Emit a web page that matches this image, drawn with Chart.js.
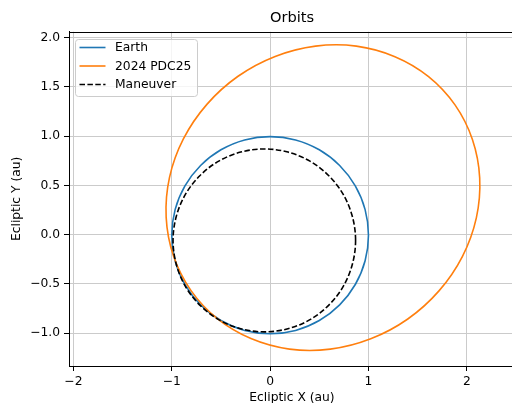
<!DOCTYPE html>
<html>
<head>
<meta charset="utf-8">
<script src="https://cdn.jsdelivr.net/npm/chart.js@4.4.0/dist/chart.umd.min.js"></script>
<style>
html,body{margin:0;padding:0;overflow:hidden;background:#fff;}
canvas{display:block;}
</style>
</head>
<body>
<canvas id="c" width="516" height="403"></canvas>
<script>
// ---- data (au) ----
const seriesLabels = ['Earth', '2024 PDC25', 'Maneuver'];

const earthX = [1.000,0.966,0.866,0.707,0.500,0.259,0.000,-0.259,-0.500,-0.707,-0.866,-0.966,-1.000,-0.966,-0.866,-0.707,-0.500,-0.259,0.000,0.259,0.500,0.707,0.866,0.966,1.000];
const earthY = [-0.005,0.254,0.495,0.702,0.861,0.961,0.995,0.961,0.861,0.702,0.495,0.254,-0.005,-0.264,-0.505,-0.712,-0.871,-0.971,-1.005,-0.971,-0.871,-0.712,-0.505,-0.264,-0.005];

const pdcX = [1.880,1.611,1.269,0.877,0.462,0.051,-0.326,-0.643,-0.882,-1.023,-1.057,-0.983,-0.806,-0.537,-0.195,0.197,0.612,1.023,1.400,1.717,1.956,2.097,2.131,2.057,1.880];
const pdcY = [1.317,1.604,1.806,1.913,1.913,1.808,1.607,1.322,0.971,0.581,0.176,-0.214,-0.565,-0.852,-1.054,-1.161,-1.161,-1.056,-0.855,-0.570,-0.219,0.171,0.576,0.966,1.317];

const manX = [0.869,0.837,0.745,0.597,0.405,0.181,-0.059,-0.299,-0.523,-0.715,-0.863,-0.955,-0.987,-0.955,-0.863,-0.715,-0.523,-0.299,-0.059,0.181,0.405,0.597,0.745,0.837,0.869];
const manY = [-0.058,0.182,0.406,0.598,0.746,0.838,0.870,0.838,0.746,0.598,0.406,0.182,-0.058,-0.298,-0.522,-0.714,-0.862,-0.954,-0.986,-0.954,-0.862,-0.714,-0.522,-0.298,-0.058];

const xTicks = [-2, -1, 0, 1, 2];
const yTicks = [-1.0, -0.5, 0.0, 0.5, 1.0, 1.5, 2.0];
const xRange = [-2.045, 2.49];
const yRange = [-1.332, 2.059];

// ---- build ----
const FONT = "'DejaVu Sans', sans-serif";
Chart.defaults.font.family = FONT;
Chart.defaults.color = '#000';

// closed orbit: add one neighbour on each side of the seam so the curve
// keeps a smooth tangent there; those two extra segments are hidden.
const loopPts = (xs, ys) => {
  const p = xs.map((x, i) => ({x: x, y: ys[i]}));
  const n = p.length;
  return [p[n - 2]].concat(p, [p[1]]);
};
const hideEnds = {
  borderColor: c => {
    const last = c.chart.data.datasets[c.datasetIndex].data.length - 1;
    return (c.p0DataIndex === 0 || c.p1DataIndex === last) ? 'rgba(0,0,0,0)' : undefined;
  }
};
const minus = s => String(s).replace('-', '\u2212');

const topSpine = {
  id: 'topSpine',
  afterDatasetsDraw(chart) {
    const {ctx, chartArea: a} = chart;
    ctx.save();
    ctx.strokeStyle = '#000';
    ctx.lineWidth = 1;
    ctx.beginPath();
    ctx.moveTo(a.left, Math.round(a.top) + 0.5);
    ctx.lineTo(a.right, Math.round(a.top) + 0.5);
    ctx.stroke();
    ctx.restore();
  }
};

const boxLegend = {
  id: 'boxLegend',
  afterDatasetsDraw(chart) {
    const ctx = chart.ctx;
    const L = 75.5, T = 39.5, W = 122, H = 57, r = 3;
    ctx.save();
    ctx.beginPath();
    ctx.moveTo(L + r, T);
    ctx.lineTo(L + W - r, T); ctx.arcTo(L + W, T, L + W, T + r, r);
    ctx.lineTo(L + W, T + H - r); ctx.arcTo(L + W, T + H, L + W - r, T + H, r);
    ctx.lineTo(L + r, T + H); ctx.arcTo(L, T + H, L, T + H - r, r);
    ctx.lineTo(L, T + r); ctx.arcTo(L, T, L + r, T, r);
    ctx.closePath();
    ctx.fillStyle = 'rgba(255,255,255,0.8)';
    ctx.fill();
    ctx.strokeStyle = '#cccccc';
    ctx.lineWidth = 1;
    ctx.stroke();
    ctx.font = '12.3px ' + FONT;
    ctx.textBaseline = 'middle';
    ctx.textAlign = 'left';
    const rows = [47.5, 66, 84.5];
    chart.data.datasets.forEach((ds, i) => {
      const y = rows[i];
      ctx.beginPath();
      ctx.setLineDash(ds.borderDash || []);
      ctx.strokeStyle = ds.borderColor;
      ctx.lineWidth = ds.borderWidth;
      ctx.moveTo(79.5, y);
      ctx.lineTo(105.5, y);
      ctx.stroke();
      ctx.setLineDash([]);
      ctx.fillStyle = '#000';
      ctx.fillText(ds.label, 115, y + 0.5);
    });
    ctx.restore();
  }
};

new Chart(document.getElementById('c'), {
  type: 'scatter',
  data: {
    datasets: [
      {label: seriesLabels[0], data: loopPts(earthX, earthY), borderColor: '#1f77b4', borderWidth: 1.6, order: 3, segment: hideEnds},
      {label: seriesLabels[1], data: loopPts(pdcX, pdcY), borderColor: '#ff7f0e', borderWidth: 1.6, order: 2, segment: hideEnds},
      {label: seriesLabels[2], data: loopPts(manX, manY), borderColor: '#000000', borderWidth: 1.6, borderDash: [5.5, 2.4], order: 1, segment: hideEnds}
    ]
  },
  options: {
    responsive: false,
    animation: false,
    showLine: true,
    elements: {
      point: {radius: 0, hoverRadius: 0},
      line: {tension: 0.34, fill: false, borderCapStyle: 'butt', capBezierPoints: false}
    },
    layout: {padding: {left: 0, right: 1, top: 0, bottom: 0}},
    plugins: {
      legend: {display: false},
      tooltip: {enabled: false},
      title: {
        display: true, text: 'Orbits', fullSize: false, color: '#000',
        font: {family: FONT, size: 14.6, weight: 'normal'},
        padding: {top: 9.5, bottom: 4.7}
      }
    },
    scales: {
      x: {
        type: 'linear', min: xRange[0], max: xRange[1],
        afterBuildTicks: s => { s.ticks = xTicks.map(v => ({value: v})); },
        afterFit: s => { s.height = 37; },
        grid: {color: '#cbcbcb', lineWidth: 1, tickColor: '#000', tickLength: 5, tickWidth: 1},
        border: {display: true, color: '#000', width: 1},
        ticks: {font: {size: 12.3}, color: '#000', padding: 3, maxRotation: 0, callback: v => minus(v)},
        title: {display: true, text: 'Ecliptic X (au)', color: '#000', font: {size: 12.3}, padding: {top: 0, bottom: -2}}
      },
      y: {
        type: 'linear', min: yRange[0], max: yRange[1],
        afterBuildTicks: s => { s.ticks = yTicks.map(v => ({value: v})); },
        afterFit: s => { s.width = 69; },
        grid: {color: '#cbcbcb', lineWidth: 1, tickColor: '#000', tickLength: 5, tickWidth: 1},
        border: {display: true, color: '#000', width: 1},
        ticks: {font: {size: 12.3}, color: '#000', padding: 4, callback: v => minus(Number(v).toFixed(1))},
        title: {display: true, text: 'Ecliptic Y (au)', color: '#000', font: {size: 12.3}, padding: {top: 9.1, bottom: 0}}
      }
    }
  },
  plugins: [topSpine, boxLegend]
});
</script>
</body>
</html>
